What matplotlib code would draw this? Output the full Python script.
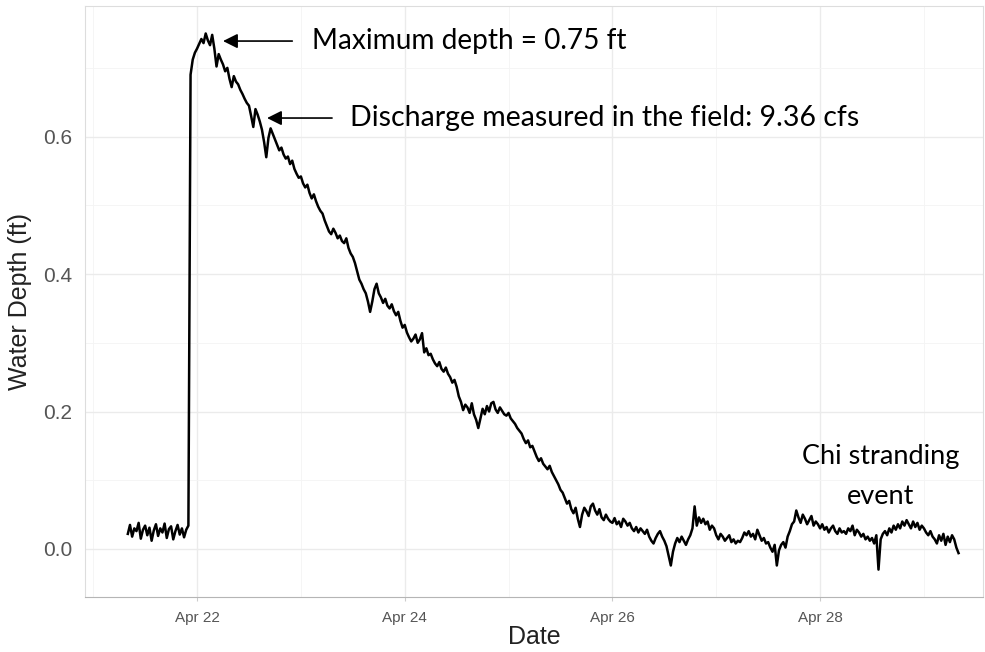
import matplotlib
matplotlib.use('Agg')
import matplotlib.pyplot as plt
import matplotlib.dates as mdates
import pandas as pd

plt.rcParams['font.family'] = ['Liberation Sans', 'DejaVu Sans']

# logger record, one reading every 30 minutes
start_time = '2021-04-21 08:00'
interval = '30min'

depth = [
    # Apr 21 08:00 - 22:00 (baseflow)
    0.022, 0.035, 0.018, 0.030, 0.026, 0.038, 0.015, 0.028, 0.034, 0.020, 0.031, 0.012,
    0.027, 0.036, 0.019, 0.030, 0.024, 0.037, 0.016, 0.029, 0.033, 0.014, 0.026, 0.035,
    0.021, 0.030, 0.017, 0.028, 0.034,
    # Apr 21 22:30 - 23:30
    0.690, 0.712, 0.722,
    # Apr 22
    0.728, 0.735, 0.742, 0.736, 0.750, 0.740, 0.733, 0.748, 0.728, 0.702, 0.720, 0.712,
    0.705, 0.695, 0.700, 0.684, 0.672, 0.688, 0.680, 0.676, 0.668, 0.662, 0.655, 0.649,
    0.645, 0.630, 0.614, 0.640, 0.632, 0.622, 0.610, 0.592, 0.570, 0.598, 0.612, 0.604,
    0.596, 0.588, 0.580, 0.584, 0.574, 0.568, 0.571, 0.560, 0.565, 0.553, 0.546, 0.540,
    # Apr 23
    0.542, 0.532, 0.526, 0.530, 0.518, 0.510, 0.516, 0.506, 0.498, 0.492, 0.488, 0.478,
    0.470, 0.462, 0.458, 0.466, 0.460, 0.452, 0.456, 0.448, 0.445, 0.452, 0.438, 0.430,
    0.425, 0.416, 0.404, 0.392, 0.386, 0.378, 0.372, 0.360, 0.345, 0.360, 0.378, 0.386,
    0.372, 0.366, 0.358, 0.364, 0.354, 0.350, 0.356, 0.346, 0.340, 0.345, 0.332, 0.322,
    # Apr 24
    0.326, 0.315, 0.308, 0.302, 0.306, 0.312, 0.300, 0.305, 0.314, 0.286, 0.292, 0.282,
    0.284, 0.276, 0.270, 0.266, 0.272, 0.262, 0.258, 0.264, 0.255, 0.250, 0.242, 0.246,
    0.236, 0.222, 0.214, 0.202, 0.210, 0.206, 0.198, 0.212, 0.196, 0.188, 0.176, 0.190,
    0.204, 0.196, 0.208, 0.200, 0.212, 0.214, 0.203, 0.198, 0.206, 0.201, 0.196, 0.194,
    # Apr 25
    0.198, 0.190, 0.186, 0.182, 0.176, 0.172, 0.168, 0.160, 0.154, 0.158, 0.148, 0.150,
    0.142, 0.134, 0.128, 0.132, 0.124, 0.120, 0.116, 0.121, 0.112, 0.106, 0.100, 0.094,
    0.086, 0.082, 0.074, 0.066, 0.070, 0.058, 0.052, 0.060, 0.044, 0.032, 0.050, 0.060,
    0.055, 0.048, 0.062, 0.066, 0.056, 0.050, 0.058, 0.046, 0.042, 0.050, 0.044, 0.040,
    # Apr 26
    0.038, 0.045, 0.036, 0.040, 0.032, 0.044, 0.040, 0.034, 0.038, 0.030, 0.026, 0.032,
    0.024, 0.030, 0.026, 0.022, 0.028, 0.018, 0.012, 0.008, 0.016, 0.022, 0.026, 0.018,
    0.012, 0.004, -0.010, -0.024, -0.004, 0.008, 0.016, 0.010, 0.018, 0.012, 0.006, 0.014,
    0.020, 0.030, 0.062, 0.034, 0.046, 0.038, 0.044, 0.036, 0.040, 0.028, 0.034, 0.030,
    # Apr 27
    0.020, 0.014, 0.022, 0.018, 0.012, 0.016, 0.020, 0.010, 0.014, 0.008, 0.012, 0.010,
    0.016, 0.024, 0.020, 0.026, 0.018, 0.022, 0.014, 0.028, 0.020, 0.012, 0.016, 0.008,
    0.010, 0.002, -0.004, 0.006, -0.024, -0.002, 0.006, 0.010, 0.002, 0.018, 0.026, 0.036,
    0.040, 0.056, 0.046, 0.038, 0.050, 0.044, 0.036, 0.042, 0.048, 0.034, 0.040, 0.036,
    # Apr 28
    0.030, 0.036, 0.028, 0.032, 0.024, 0.030, 0.034, 0.026, 0.022, 0.030, 0.024, 0.026,
    0.022, 0.030, 0.026, 0.034, 0.020, 0.028, 0.024, 0.018, 0.022, 0.014, 0.018, 0.012,
    0.016, 0.008, 0.020, -0.030, 0.014, 0.022, 0.026, 0.020, 0.030, 0.024, 0.034, 0.028,
    0.036, 0.030, 0.040, 0.034, 0.042, 0.036, 0.030, 0.040, 0.032, 0.038, 0.028, 0.034,
    # Apr 29 00:00 - 08:00
    0.030, 0.024, 0.020, 0.026, 0.018, 0.014, 0.008, 0.020, 0.012, 0.022, 0.006, 0.018,
    0.010, 0.020, 0.014, 0.002, -0.006,
]

tid = pd.date_range(start_time, periods=len(depth), freq=interval)

max_label = 'Maximum depth = 0.75 ft'
q_label = 'Discharge measured in the field: 9.36 cfs'
event_label = 'Chi stranding\nevent'

fig = plt.figure(figsize=(9.85, 6.52), dpi=100)
ax = fig.add_axes([0.0863, 0.0844, 0.912, 0.9064])

ax.plot(tid, depth, color='black', linewidth=1.8, zorder=3)

ax.set_xlim(pd.Timestamp('2021-04-22') - pd.Timedelta(days=1.079),
            pd.Timestamp('2021-04-22') + pd.Timedelta(days=7.572))
ax.set_ylim(-0.0698, 0.790)

ax.xaxis.set_major_locator(mdates.DayLocator(bymonthday=[22, 24, 26, 28]))
ax.xaxis.set_minor_locator(mdates.DayLocator(bymonthday=[21, 23, 25, 27, 29]))
ax.xaxis.set_major_formatter(mdates.DateFormatter('%b %d'))
ax.set_yticks([0.0, 0.2, 0.4, 0.6])
ax.set_yticks([0.1, 0.3, 0.5, 0.7], minor=True)
ax.yaxis.set_major_formatter(matplotlib.ticker.FormatStrFormatter('%.1f'))

ax.grid(which='major', color='#ebebeb', linewidth=1.0)
ax.grid(which='minor', color='#f4f4f4', linewidth=0.6)
ax.set_axisbelow(True)

for s in ['top', 'right', 'left']:
    ax.spines[s].set_color('#dddddd')
ax.spines['bottom'].set_color('#b5b5b5')

ax.tick_params(axis='x', which='major', labelsize=11, labelcolor='#555555',
               length=3, color='#cccccc', pad=7)
ax.tick_params(axis='y', which='major', labelsize=15, labelcolor='#555555',
               length=0, pad=9)
ax.tick_params(which='minor', length=0)

ax.set_xlabel('Date', fontsize=18, color='#222222', labelpad=0)
ax.set_ylabel('Water Depth (ft)', fontsize=18, color='#222222', labelpad=8)

day0 = pd.Timestamp('2021-04-22')
ann_font = ['Lato', 'DejaVu Sans']
ax.annotate('', xy=(day0 + pd.Timedelta(days=0.25), 0.739),
            xytext=(day0 + pd.Timedelta(days=0.917), 0.739),
            arrowprops=dict(arrowstyle='-|>', color='black', lw=1.2,
                            mutation_scale=22, shrinkA=0, shrinkB=0))
ax.text(day0 + pd.Timedelta(days=1.108), 0.739, max_label, fontsize=20.2,
        family=ann_font, va='center', ha='left')

ax.annotate('', xy=(day0 + pd.Timedelta(days=0.674), 0.627),
            xytext=(day0 + pd.Timedelta(days=1.30), 0.627),
            arrowprops=dict(arrowstyle='-|>', color='black', lw=1.2,
                            mutation_scale=22, shrinkA=0, shrinkB=0))
ax.text(day0 + pd.Timedelta(days=1.474), 0.627, q_label, fontsize=20.5,
        family=ann_font, va='center', ha='left')

ax.text(day0 + pd.Timedelta(days=6.58), 0.105, event_label, fontsize=19.5,
        family=ann_font, va='center', ha='center', linespacing=1.75)

fig.savefig('out.png', dpi=100)
